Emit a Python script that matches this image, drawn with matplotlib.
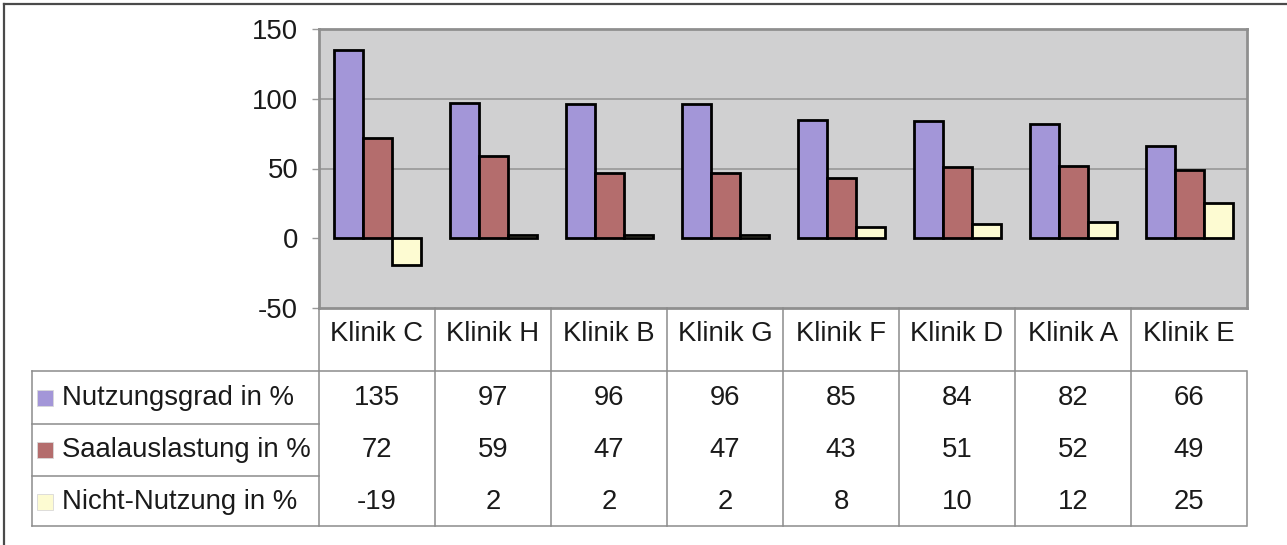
import matplotlib
matplotlib.use("Agg")
import matplotlib.pyplot as plt
from matplotlib.transforms import blended_transform_factory
from matplotlib.patches import Rectangle

# ---- data -------------------------------------------------------------
categories = ["Klinik C", "Klinik H", "Klinik B", "Klinik G",
              "Klinik F", "Klinik D", "Klinik A", "Klinik E"]
nutzungsgrad = [135, 97, 96, 96, 85, 84, 82, 66]
saalauslastung = [72, 59, 47, 47, 43, 51, 52, 49]
nicht_nutzung = [-19, 2, 2, 2, 8, 10, 12, 25]
series_names = ["Nutzungsgrad in %", "Saalauslastung in %", "Nicht-Nutzung in %"]
y_ticks = [-50, 0, 50, 100, 150]

# ---- styling ----------------------------------------------------------
W, H = 1287, 545
colors = ["#a396d8", "#b46d6d", "#fdfbd2"]
plot_bg = "#d0d0d1"
grid_col = "#9c9c9c"
frame_col = "#8f8f8f"
text_col = "#1a1a1a"
fs = 19.8

plt.rcParams["font.family"] = ["Liberation Sans", "DejaVu Sans"]

fig = plt.figure(figsize=(W / 100, H / 100), dpi=100)
fig.patch.set_facecolor("white")


def fx(px):
    return px / W


def fy(py):
    return 1 - py / H


# plot area in pixel coordinates
left, right, top, bottom = 319, 1247, 29, 308
ax = fig.add_axes([fx(left), fy(bottom), fx(right - left), (bottom - top) / H])
ax.set_facecolor(plot_bg)

series = [nutzungsgrad, saalauslastung, nicht_nutzung]
bw = 0.25
offsets = [-bw, 0, bw]
for vals, off, col in zip(series, offsets, colors):
    ax.bar([i + off for i in range(len(categories))], vals, width=bw,
           color=col, edgecolor="black", linewidth=2.0, zorder=3)

ax.set_xlim(-0.5, len(categories) - 0.5)
ax.set_ylim(-50, 150)
ax.set_yticks(y_ticks)
ax.set_yticklabels([str(t) for t in y_ticks], fontsize=fs, color=text_col)
ax.tick_params(axis="y", length=5, width=1, color="#9a9a9a", pad=10)
ax.set_xticks([])
for y in (50, 100):
    ax.axhline(y, color=grid_col, linewidth=1.3, zorder=1)
for sp in ax.spines.values():
    sp.set_color(frame_col)
    sp.set_linewidth(2)

# ---- data table under the plot ----------------------------------------
trans = blended_transform_factory(ax.transData, fig.transFigure)
line_col = "#8c8c8c"
lw = 1.1

header_mid = 334
row_mids = [398, 450, 502]
header_bot = 371
table_bot = 526
label_left = 32

n = len(categories)
# vertical separators between category columns
for i in range(n + 1):
    x = i - 0.5
    y0 = header_bot if i == n else bottom
    fig.add_artist(plt.Line2D([x, x], [fy(y0), fy(table_bot)], transform=trans,
                              color=line_col, linewidth=lw))
# horizontal lines
fig.add_artist(plt.Line2D([fx(label_left), fx(right - 1)], [fy(header_bot)] * 2,
                          color=line_col, linewidth=lw))
fig.add_artist(plt.Line2D([fx(label_left), fx(right - 1)], [fy(table_bot)] * 2,
                          color=line_col, linewidth=lw))
for yb in (424, 476):
    fig.add_artist(plt.Line2D([fx(label_left), fx(left)], [fy(yb)] * 2,
                              color=line_col, linewidth=lw))
fig.add_artist(plt.Line2D([fx(label_left)] * 2, [fy(header_bot), fy(table_bot)],
                          color=line_col, linewidth=lw))

# category headers
for i, c in enumerate(categories):
    fig.text(i, fy(header_mid), c, transform=trans, ha="center", va="center",
             fontsize=fs, color=text_col)

# series rows: legend key, name, values
for r, (name, vals, col) in enumerate(zip(series_names, series, colors)):
    ym = row_mids[r]
    fig.add_artist(Rectangle((fx(37), fy(ym + 8)), fx(16), 16 / H,
                             facecolor=col, edgecolor="#d8d8d8", linewidth=0.6))
    fig.text(fx(62), fy(ym), name, ha="left", va="center",
             fontsize=fs, color=text_col)
    for i, v in enumerate(vals):
        fig.text(i, fy(ym), str(v), transform=trans, ha="center", va="center",
                 fontsize=fs, color=text_col)

# outer chart frame (top and left edges)
fig.add_artist(plt.Line2D([fx(4), 1], [fy(4), fy(4)], color="#4a4a4a", linewidth=1.6))
fig.add_artist(plt.Line2D([fx(4), fx(4)], [fy(4), 0], color="#4a4a4a", linewidth=1.6))

fig.savefig("out.png", dpi=100)
